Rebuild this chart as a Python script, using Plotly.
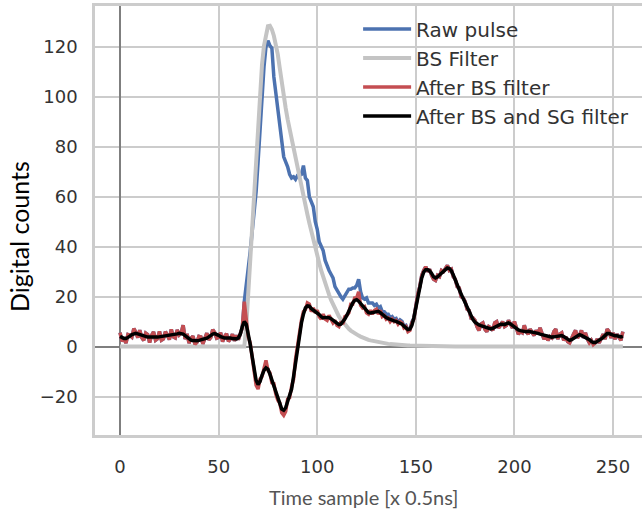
import plotly.graph_objects as go

# sample index (time sample, x 0.5 ns)
samples = list(range(256))

after_bs_sg = [
    4.1, 3.6, 3.2, 3.2, 3.6, 4.2, 4.8, 5.2, 5.3, 5.1,
    4.8, 4.4, 4.1, 3.9, 3.8, 3.8, 3.9, 3.9, 3.8, 3.8,
    3.9, 4.0, 4.1, 4.2, 4.3, 4.4, 4.5, 4.7, 4.9, 5.1,
    5.3, 5.3, 5.0, 4.4, 3.7, 3.0, 2.6, 2.4, 2.3, 2.3,
    2.5, 2.7, 2.9, 3.0, 3.4, 3.9, 4.5, 5.0, 5.2, 5.0,
    4.5, 4.0, 3.6, 3.4, 3.4, 3.5, 3.4, 3.2, 3.1, 3.1,
    3.5, 5.0, 8.0, 10.0, 9.0, 5.5, 1.0, -4.0, -9.0, -13.5,
    -15.2, -14.0, -11.5, -9.5, -8.5, -9.0, -11.0, -13.5, -15.5, -18.0,
    -21.0, -23.5, -25.0, -25.5, -24.5, -22.0, -19.5, -17.0, -12.0, -6.0,
    0.0, 5.0, 9.5, 13.0, 15.5, 16.3, 16.2, 15.2, 14.6, 14.3,
    13.8, 12.8, 12.0, 11.5, 11.7, 11.8, 11.6, 11.2, 10.5, 9.8,
    9.2, 8.8, 9.0, 9.8, 11.0, 12.5, 14.2, 16.0, 17.5, 18.5,
    18.8, 18.2, 17.3, 16.5, 15.3, 14.2, 13.6, 13.5, 13.7, 14.0,
    14.2, 14.1, 13.6, 12.8, 12.1, 11.6, 11.2, 10.8, 10.5, 10.3,
    10.1, 9.8, 9.5, 9.0, 8.2, 7.4, 6.8, 7.0, 8.5, 11.5,
    16.0, 20.5, 24.5, 27.5, 29.8, 30.8, 30.8, 30.3, 29.3, 28.0,
    27.5, 27.9, 28.7, 29.5, 30.3, 31.0, 31.5, 31.3, 30.4, 28.7,
    26.5, 24.5, 22.8, 21.0, 19.2, 17.5, 15.8, 13.9, 12.2, 10.8,
    9.8, 9.1, 8.7, 8.4, 8.1, 7.8, 7.4, 7.2, 7.1, 7.3,
    7.8, 8.4, 8.8, 9.0, 9.0, 8.8, 9.2, 9.5, 9.1, 8.4,
    7.8, 7.2, 6.7, 6.4, 6.2, 6.1, 6.0, 6.1, 6.0, 5.8,
    5.6, 5.5, 5.3, 5.0, 4.8, 4.6, 4.3, 4.0, 3.8, 3.8,
    3.9, 4.1, 4.3, 4.4, 4.4, 4.0, 3.4, 2.8, 2.5, 2.8,
    3.4, 4.0, 4.6, 4.8, 4.5, 4.1, 3.9, 3.5, 2.8, 2.1,
    1.6, 1.6, 2.0, 2.5, 3.1, 3.7, 4.4, 5.2, 5.2, 4.8,
    4.5, 4.3, 4.3, 4.1, 3.9, 4.1,
]

after_bs = [
    5.6, 2.1, 3.7, 1.4, 4.8, 4.5, 3.8, 7.2, 5.8, 3.6,
    6.6, 3.6, 2.5, 5.4, 4.8, 1.6, 4.5, 5.9, 2.6, 3.2,
    6.1, 2.6, 3.1, 6.0, 4.5, 2.8, 6.9, 3.9, 3.5, 6.7,
    4.7, 5.5, 8.6, 3.0, 5.1, 1.4, 3.4, 4.2, 0.9, 1.7,
    4.1, 3.9, 1.1, 3.2, 5.4, 2.7, 3.7, 6.8, 5.6, 3.4,
    3.7, 5.6, 2.0, 4.0, 5.2, 2.1, 3.2, 5.0, 2.3, 4.5,
    2.8, 5.2, 7.5, 18.0, 9.5, 4.0, 1.5, -5.0, -10.5, -15.5,
    -17.0, -13.0, -12.0, -8.0, -5.5, -9.5, -10.5, -14.5, -14.8, -19.0,
    -21.5, -22.5, -26.5, -27.5, -26.0, -21.0, -20.5, -16.0, -13.0, -5.0,
    0.5, 4.0, 10.5, 14.0, 14.8, 17.5, 17.0, 14.0, 15.5, 13.5,
    14.5, 12.0, 11.0, 13.0, 11.0, 10.5, 12.5, 11.0, 9.5, 10.5,
    8.5, 8.0, 10.0, 9.0, 12.0, 12.5, 13.5, 17.0, 17.0, 19.5,
    19.5, 22.0, 16.5, 15.5, 16.0, 13.5, 13.0, 14.5, 13.0, 14.5,
    15.0, 13.0, 14.5, 12.0, 12.5, 11.0, 11.5, 10.0, 11.0, 10.0,
    10.5, 9.0, 10.0, 9.5, 7.5, 8.0, 6.0, 6.5, 9.5, 11.0,
    16.5, 21.0, 24.0, 28.5, 30.5, 32.0, 30.0, 31.0, 28.5, 27.0,
    26.5, 28.5, 28.0, 30.5, 30.0, 31.5, 32.5, 30.5, 31.0, 28.0,
    27.0, 24.0, 23.5, 20.0, 19.5, 18.0, 15.0, 14.5, 11.5, 11.5,
    10.5, 8.0, 6.5, 9.0, 9.5, 7.0, 6.0, 8.0, 7.5, 6.5,
    9.5, 10.0, 7.5, 8.5, 10.0, 8.0, 8.5, 10.5, 9.0, 7.5,
    10.0, 7.0, 5.0, 6.0, 5.5, 8.5, 6.0, 5.0, 7.0, 5.5,
    4.5, 6.5, 5.0, 7.5, 5.5, 3.0, 4.5, 2.5, 4.0, 3.5,
    6.0, 7.0, 3.0, 5.0, 5.5, 2.5, 4.0, 2.0, 1.5, 3.5,
    5.0, 6.5, 3.5, 4.5, 6.5, 3.5, 5.5, 3.0, 1.5, 2.5,
    0.8, 1.5, 3.0, 1.5, 3.5, 5.0, 3.0, 7.0, 6.0, 3.5,
    5.5, 3.0, 5.0, 3.5, 2.5, 6.0,
]

raw_pulse = [
    5.6, 2.1, 3.7, 1.4, 4.8, 4.5, 3.8, 7.2, 5.8, 3.6,
    6.6, 3.6, 2.5, 5.4, 4.8, 1.6, 4.5, 5.9, 2.6, 3.2,
    6.1, 2.6, 3.1, 6.0, 4.5, 2.8, 6.9, 3.9, 3.5, 6.7,
    4.7, 5.5, 8.6, 3.0, 5.1, 1.4, 3.4, 4.2, 0.9, 1.7,
    4.1, 3.9, 1.1, 3.2, 5.4, 2.7, 3.7, 6.8, 5.6, 3.4,
    3.7, 5.6, 2.0, 4.0, 5.2, 2.1, 3.2, 5.0, 2.3, 4.5,
    2.8, 5.2, 7.5, 18.0, 24.0, 31.0, 38.0, 46.0, 54.0, 62.0,
    74.0, 88.0, 101.0, 112.0, 120.0, 122.5, 120.5, 119.5, 108.0, 101.5,
    96.0, 90.0, 83.0, 76.0, 74.0, 72.0, 69.0, 67.5, 68.0, 67.0,
    68.5, 68.5, 69.0, 72.5, 67.5, 66.5, 60.0, 57.5, 56.0, 50.0,
    47.0, 42.0, 40.0, 38.5, 34.5, 32.0, 30.5, 29.0, 27.5, 24.0,
    22.5, 21.5, 20.0, 19.0, 20.5, 21.5, 23.0, 23.0, 23.5, 23.5,
    24.5, 27.0, 22.0, 19.5, 19.0, 19.5, 17.5, 17.5, 17.5, 16.5,
    17.0, 15.5, 16.0, 14.0, 14.0, 13.0, 13.0, 11.5, 12.0, 11.0,
    11.3, 9.7, 10.7, 10.1, 8.1, 8.5, 6.5, 6.9, 9.9, 11.3,
    16.8, 21.0, 24.0, 28.5, 30.5, 32.0, 30.0, 31.0, 28.5, 27.0,
    26.5, 28.5, 28.0, 30.5, 30.0, 31.5, 32.5, 30.5, 31.0, 28.0,
    27.0, 24.0, 23.5, 20.0, 19.5, 18.0, 15.0, 14.5, 11.5, 11.5,
    10.5, 8.0, 6.5, 9.0, 9.5, 7.0, 6.0, 8.0, 7.5, 6.5,
    9.5, 10.0, 7.5, 8.5, 10.0, 8.0, 8.5, 10.5, 9.0, 7.5,
    10.0, 7.0, 5.0, 6.0, 5.5, 8.5, 6.0, 5.0, 7.0, 5.5,
    4.5, 6.5, 5.0, 7.5, 5.5, 3.0, 4.5, 2.5, 4.0, 3.5,
    6.0, 7.0, 3.0, 5.0, 5.5, 2.5, 4.0, 2.0, 1.5, 3.5,
    5.0, 6.5, 3.5, 4.5, 6.5, 3.5, 5.5, 3.0, 1.5, 2.5,
    0.8, 1.5, 3.0, 1.5, 3.5, 5.0, 3.0, 7.0, 6.0, 3.5,
    5.5, 3.0, 5.0, 3.5, 2.5, 6.0,
]

bs_filter = [
    0.0, 0.0, 0.0, 0.0, 0.0, 0.0, 0.0, 0.0, 0.0, 0.0,
    0.0, 0.0, 0.0, 0.0, 0.0, 0.0, 0.0, 0.0, 0.0, 0.0,
    0.0, 0.0, 0.0, 0.0, 0.0, 0.0, 0.0, 0.0, 0.0, 0.0,
    0.0, 0.0, 0.0, 0.0, 0.0, 0.0, 0.0, 0.0, 0.0, 0.0,
    0.0, 0.0, 0.0, 0.0, 0.0, 0.0, 0.0, 0.0, 0.0, 0.0,
    0.0, 0.0, 0.0, 0.0, 0.0, 0.0, 0.0, 0.0, 0.0, 0.0,
    0.0, 0.0, 0.0, 0.0, 8.0, 22.0, 36.0, 50.0, 64.0, 78.0,
    91.0, 103.0, 113.0, 120.5, 125.5, 128.3, 128.5, 127.0, 124.5, 121.0,
    117.0, 111.5, 105.5, 100.0, 95.5, 91.0, 87.0, 83.0, 79.0, 75.5,
    72.0, 68.5, 64.5, 61.0, 57.0, 53.0, 49.5, 46.0, 42.5, 39.5,
    36.5, 33.5, 30.5, 27.8, 25.2, 23.0, 20.8, 18.7, 16.8, 15.0,
    13.5, 12.1, 10.9, 9.8, 8.8, 7.9, 7.1, 6.4, 5.8, 5.3,
    4.8, 4.4, 4.0, 3.6, 3.3, 3.0, 2.7, 2.5, 2.3, 2.1,
    1.9, 1.7, 1.6, 1.5, 1.3, 1.2, 1.1, 1.0, 0.9, 0.85,
    0.8, 0.7, 0.65, 0.6, 0.55, 0.5, 0.45, 0.4, 0.37, 0.34,
    0.3, 0.28, 0.25, 0.23, 0.21, 0.19, 0.17, 0.16, 0.14, 0.12,
    0.11, 0.1, 0.09, 0.08, 0.07, 0.07, 0.06, 0.05, 0.05, 0.04,
    0.04, 0.03, 0.03, 0.03, 0.02, 0.02, 0.02, 0.02, 0.01, 0.01,
    0.0, 0.0, 0.0, 0.0, 0.0, 0.0, 0.0, 0.0, 0.0, 0.0,
    0.0, 0.0, 0.0, 0.0, 0.0, 0.0, 0.0, 0.0, 0.0, 0.0,
    0.0, 0.0, 0.0, 0.0, 0.0, 0.0, 0.0, 0.0, 0.0, 0.0,
    0.0, 0.0, 0.0, 0.0, 0.0, 0.0, 0.0, 0.0, 0.0, 0.0,
    0.0, 0.0, 0.0, 0.0, 0.0, 0.0, 0.0, 0.0, 0.0, 0.0,
    0.0, 0.0, 0.0, 0.0, 0.0, 0.0, 0.0, 0.0, 0.0, 0.0,
    0.0, 0.0, 0.0, 0.0, 0.0, 0.0, 0.0, 0.0, 0.0, 0.0,
    0.0, 0.0, 0.0, 0.0, 0.0, 0.0,
]

x_ticks = [0, 50, 100, 150, 200, 250]
y_ticks = [-20, 0, 20, 40, 60, 80, 100, 120]

series = [
    ("Raw pulse", raw_pulse, "#4C72B0", 3.5),
    ("BS Filter", bs_filter, "#C4C4C4", 4),
    ("After BS filter", after_bs, "#C44E52", 3.5),
    ("After BS and SG filter", after_bs_sg, "#000000", 3.5),
]

fig = go.Figure()
for i, (name, vals, color, w) in enumerate(series):
    fig.add_trace(go.Scatter(
        x=samples, y=vals, mode="lines", name=name,
        line=dict(color=color, width=w),
    ))

grid = "#CCCCCC"
tickfont = dict(family="DejaVu Sans", size=18, color="#333333")

fig.update_layout(
    width=642, height=510,
    margin=dict(l=95, r=0, t=6, b=75),
    paper_bgcolor="white", plot_bgcolor="white",
    showlegend=True,
    legend=dict(
        x=0.481, y=0.992, xanchor="left", yanchor="top",
        bgcolor="rgba(0,0,0,0)", borderwidth=0,
        font=dict(family="DejaVu Sans", size=20, color="#333333"),
        itemwidth=48,
    ),
    xaxis=dict(
        range=[-12.7, 264.7], tickvals=x_ticks,
        showgrid=True, gridcolor=grid, gridwidth=2,
        zeroline=True, zerolinecolor="#7F7F7F", zerolinewidth=2,
        showline=True, linecolor=grid, linewidth=2.5, mirror=True,
        ticks="outside", ticklen=14, tickcolor="rgba(0,0,0,0)",
        tickfont=tickfont,
    ),
    yaxis=dict(
        range=[-35.4, 136.4], tickvals=y_ticks,
        showgrid=True, gridcolor=grid, gridwidth=2,
        zeroline=True, zerolinecolor="#7F7F7F", zerolinewidth=2,
        showline=True, linecolor=grid, linewidth=2.5, mirror=False,
        ticks="outside", ticklen=11, tickcolor="rgba(0,0,0,0)",
        tickfont=tickfont,
    ),
    annotations=[
        dict(text="Time sample [x 0.5ns]", xref="paper", yref="paper",
             x=(363 - 95) / 547, y=-(497 - 435) / 429, xanchor="center", yanchor="middle",
             showarrow=False, font=dict(family="Lato", size=20, color="#555555")),
        dict(text="Digital counts", xref="paper", yref="paper",
             x=-(95 - 19) / 547, y=(435 - 237) / 429, xanchor="center", yanchor="middle",
             textangle=-90, showarrow=False,
             font=dict(family="Lato", size=25, color="#000000")),
    ],
)

fig.write_html("out.html")
